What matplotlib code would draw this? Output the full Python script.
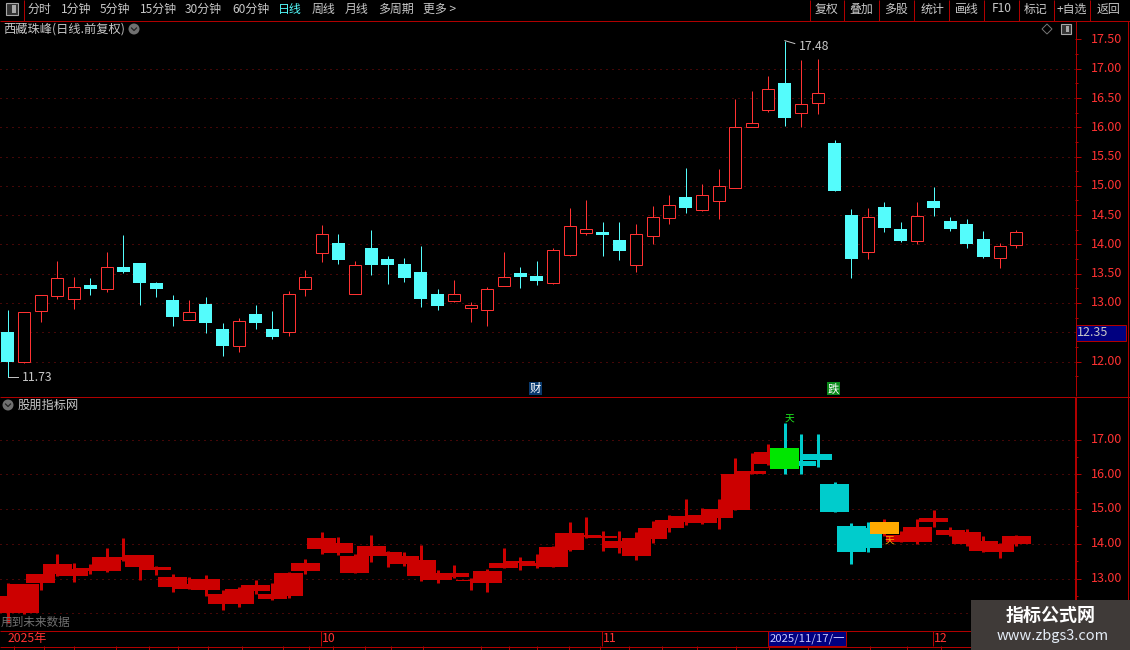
import matplotlib
matplotlib.use("Agg")
import matplotlib.pyplot as plt
from matplotlib.patches import Rectangle, Circle, Polygon

plt.rcParams['font.family'] = ['Noto Sans CJK SC', 'DejaVu Sans']

# 日线数据
opens = [12.51, 12.00, 12.87, 13.12, 13.07, 13.31, 13.23, 13.61, 13.68, 13.34, 13.05,
         12.71, 12.98, 12.55, 12.26, 12.81, 12.55, 12.50, 13.23, 13.86, 14.03, 13.15,
         13.94, 13.75, 13.66, 13.53, 13.15, 13.04, 12.92, 12.88, 13.29, 13.51, 13.46,
         13.34, 13.82, 14.20, 14.21, 14.07, 13.65, 14.15, 14.45, 14.81, 14.59, 14.74,
         14.97, 16.00, 16.30, 16.75, 16.24, 16.42, 15.73, 14.50, 13.87, 14.64, 14.26,
         14.05, 14.74, 14.40, 14.35, 14.09, 13.77, 13.99]
closes = [12.00, 12.84, 13.13, 13.42, 13.28, 13.23, 13.61, 13.53, 13.34, 13.24, 12.76,
          12.84, 12.66, 12.27, 12.70, 12.65, 12.41, 13.16, 13.45, 14.17, 13.74, 13.64,
          13.65, 13.65, 13.42, 13.07, 12.95, 13.16, 12.96, 13.23, 13.45, 13.44, 13.37,
          13.91, 14.32, 14.26, 14.16, 13.88, 14.17, 14.46, 14.67, 14.62, 14.84, 14.99,
          16.01, 16.08, 16.65, 16.16, 16.39, 16.58, 14.91, 13.75, 14.46, 14.28, 14.05,
          14.49, 14.62, 14.26, 14.00, 13.78, 13.98, 14.22]
highs = [12.88, 12.84, 13.13, 13.71, 13.44, 13.42, 13.87, 14.16, 13.68, 13.36, 13.13,
         13.05, 13.10, 12.66, 12.75, 12.96, 12.86, 13.20, 13.57, 14.33, 14.18, 13.71,
         14.24, 13.80, 13.77, 13.97, 13.24, 13.39, 13.02, 13.27, 13.87, 13.61, 13.71,
         13.94, 14.62, 14.76, 14.38, 14.38, 14.35, 14.65, 14.84, 15.30, 15.03, 15.28,
         16.48, 16.62, 16.87, 17.48, 17.15, 17.16, 15.78, 14.60, 14.62, 14.72, 14.38,
         14.72, 14.98, 14.47, 14.43, 14.23, 14.02, 14.24]
lows = [11.73, 11.98, 12.68, 13.07, 12.90, 13.14, 13.19, 13.51, 12.97, 13.11, 12.61,
        12.71, 12.49, 12.10, 12.17, 12.56, 12.39, 12.44, 13.12, 13.70, 13.67, 13.15,
        13.48, 13.32, 13.36, 12.93, 12.88, 13.02, 12.67, 12.61, 13.29, 13.25, 13.31,
        13.33, 13.80, 14.16, 13.80, 13.73, 13.53, 14.01, 14.35, 14.53, 14.57, 14.43,
        14.97, 16.00, 16.26, 16.02, 16.00, 16.22, 14.91, 13.42, 13.75, 14.21, 14.04,
        14.00, 14.48, 14.23, 13.94, 13.77, 13.60, 13.94]

green_bars = [47]
cyan_bars = [48, 49, 50, 51, 52]
orange_bars = [53]

left_menu = ['分时', '1分钟', '5分钟', '15分钟', '30分钟', '60分钟', '日线', '周线', '月线', '多周期', '更多 >']
left_menu_x = [28, 61, 100, 140, 185, 232, 278, 312, 345, 378, 423]
right_menu = ['复权', '叠加', '多股', '统计', '画线', 'F10', '标记', '+自选', '返回']
right_menu_x = [827, 861, 896, 932, 967, 1002, 1036, 1072, 1108]
menu_seps = [810, 844, 879, 914, 949, 984, 1019, 1054, 1090]
top_ticks = [12.0, 12.5, 13.0, 13.5, 14.0, 14.5, 15.0, 15.5, 16.0, 16.5, 17.0, 17.5]
low_ticks = [13.0, 14.0, 15.0, 16.0, 17.0]
low_grid = [12.0, 13.0, 14.0, 15.0, 16.0, 17.0]
months = ['2025年', '10', '11', '12']
month_x = [8, 322, 603, 934]
month_seps = [320, 601, 932]
date_ticks = [13, 43, 73, 115, 148, 177, 207, 241, 282, 308, 332, 364, 390, 422, 480, 508,
              536, 568, 599, 628, 661, 696, 735, 768, 807, 869, 906, 940]

RED = '#ff3232'
CYAN = '#54fcfc'
FRAME = '#b00000'
GRID = '#8a0f0f'
TXT = '#c8c8c8'
W, H = 1130, 650
AX_R = 1075
STEP = 16.54
X0 = 7.5

fig = plt.figure(figsize=(W / 100, H / 100), dpi=100, facecolor='black')


def panel(top, bottom):
    ax = fig.add_axes([0, 1 - bottom / H, AX_R / W, (bottom - top) / H], facecolor='black')
    ax.set_xlim(-X0 / STEP, (AX_R - X0) / STEP)
    ax.axis('off')
    return ax


idx = list(range(len(opens)))
is_up = [c >= o for o, c in zip(opens, closes)]

# 主图 K线
ax1 = panel(22, 396)
s1 = 58.55
ax1.set_ylim(12 - (396 - 361.5) / s1, 12 + (361.5 - 22) / s1)
for t in top_ticks[:-1]:
    ax1.axhline(t, color=GRID, lw=0.72, ls=(0, (1, 5)), zorder=1)
for i in idx:
    col = RED if is_up[i] else CYAN
    ax1.vlines(i, lows[i], highs[i], color=col, lw=0.72, zorder=2, capstyle='butt', snap=True)
    b, t = sorted([opens[i], closes[i]])
    if is_up[i]:
        ax1.add_patch(Rectangle((i - 6 / STEP, b), 12 / STEP, t - b, fc='black', ec=RED, lw=0.72,
                                zorder=3, snap=True))
    else:
        ax1.add_patch(Rectangle((i - 6.5 / STEP, b), 13 / STEP, t - b, fc=CYAN, ec='none', zorder=3, snap=True))

hi = highs.index(max(highs))
lo = lows.index(min(lows))
ax1.annotate('%.2f' % highs[hi], (hi, highs[hi]), xytext=(10, -4), textcoords='offset points',
             color=TXT, fontsize=8.8, va='center', zorder=5)
ax1.plot([hi, hi + 0.6], [highs[hi], highs[hi] - 0.05], color=TXT, lw=0.7, zorder=5)
ax1.annotate('%.2f' % lows[lo], (lo, lows[lo]), xytext=(10, 0), textcoords='offset points',
             color=TXT, fontsize=8.8, va='center', zorder=5)
ax1.plot([lo, lo + 0.65], [lows[lo], lows[lo]], color=TXT, lw=0.7, zorder=5)

# 副图
ax2 = panel(397, 630)
s2 = 34.75
ax2.set_ylim(13 - (630 - 578.5) / s2, 17 + (439.5 - 397) / s2)
for t in low_grid:
    ax2.axhline(t, color=GRID, lw=0.72, ls=(0, (1, 5)), zorder=1)
for i in idx:
    b, t = sorted([opens[i], closes[i]])
    if i in green_bars:
        col, wick, z = '#00e600', '#00cccc', 6
    elif i in cyan_bars:
        col, wick, z = '#00cccc', '#00cccc', 4
    elif i in orange_bars:
        col, wick, z = '#ffaa00', '#cc0000', 6
    else:
        col, wick, z = '#cc0000', '#cc0000', 2
    ax2.vlines(i, lows[i], highs[i], color=wick, lw=2.16, zorder=z - 1, capstyle='butt', snap=True)
    ax2.add_patch(Rectangle((i - 14.5 / STEP, b), 29 / STEP, t - b, fc=col, ec='none', zorder=z, snap=True))
ax2.annotate('天', (green_bars[0], highs[green_bars[0]]), xytext=(3.5, 2), textcoords='offset points',
             color='#20f020', fontsize=7, ha='center', va='center', zorder=8)
ax2.annotate('天', (orange_bars[0], lows[orange_bars[0]]), xytext=(3.5, -4), textcoords='offset points',
             color='#ffaa00', fontsize=7, ha='center', va='center', zorder=8)
ax2.text(1 / STEP - X0 / STEP, 13 - (622 - 578.5) / s2, '用到未来数据', color='#707070', fontsize=8.4,
         va='center', zorder=9)

# 界面框线和文字
ov = fig.add_axes([0, 0, 1, 1], facecolor='none')
ov.set_xlim(0, W)
ov.set_ylim(H, 0)
ov.axis('off')


def hl(y, x0=0, x1=W, c=FRAME, lw=0.72):
    ov.plot([x0, x1], [y, y], color=c, lw=lw, solid_capstyle='butt', snap=True)


def vl(x, y0, y1, c=FRAME, lw=0.72):
    ov.plot([x, x], [y0, y1], color=c, lw=lw, solid_capstyle='butt', snap=True)


def icon_down(x, y):
    ov.add_patch(Circle((x, y), 5.5, fc='#707070', ec='none'))
    ov.plot([x - 2.5, x, x + 2.5], [y - 1, y + 1.5, y - 1], color='#222222', lw=0.9)


hl(21)
hl(396.5)
hl(630.5)
hl(646.5)
vl(23.5, 0, 21)
for x in menu_seps:
    vl(x, 0, 21)
vl(AX_R + 0.5, 21, 396)
vl(AX_R + 0.5, 397, 630, lw=1.44)
vl(1127.5, 21, 630)
ov.add_patch(Rectangle((6, 3), 12, 12, fc='#333333', ec='#a8a8a8', lw=0.8))
ov.add_patch(Rectangle((12, 5), 4, 8, fc='#a8a8a8', ec='none'))
for s, x in zip(left_menu, left_menu_x):
    ov.text(x, 9, s, color=CYAN if s == '日线' else TXT, fontsize=8.6, va='center')
for s, x in zip(right_menu, right_menu_x):
    ov.text(x, 9, s, color=TXT, fontsize=8.6, va='center', ha='center')

ov.text(3, 29, '西藏珠峰(日线.前复权)', color=TXT, fontsize=8.8, va='center')
icon_down(134, 29)
ov.add_patch(Polygon([(1047, 24), (1052, 29), (1047, 34), (1042, 29)], fc='none', ec='#777777', lw=0.7))
ov.add_patch(Rectangle((1061, 24), 10, 10, fc='#333333', ec='#a8a8a8', lw=0.8))
ov.add_patch(Rectangle((1066, 26), 3, 6, fc='#a8a8a8', ec='none'))
icon_down(8, 405)
ov.text(18, 405, '股朋指标网', color=TXT, fontsize=8.8, va='center')

# 坐标刻度, 12.50 is covered by the current price box
for t in top_ticks:
    y = 361.5 - (t - 12) * s1
    hl(y, AX_R, AX_R + 6)
    if t != 12.5:
        ov.text(1091, y, '%.2f' % t, color=RED, fontsize=9, va='center')
    if t < 17.5:
        hl(y - 0.25 * s1, AX_R, AX_R + 3)
hl(361.5 + 0.25 * s1, AX_R, AX_R + 3)
for t in low_ticks:
    y = 578.5 - (t - 13) * s2
    hl(y, AX_R, AX_R + 6)
    ov.text(1091, y, '%.2f' % t, color=RED, fontsize=9, va='center')
    hl(y + 0.5 * s2, AX_R, AX_R + 3)
ov.add_patch(Rectangle((1076, 325), 50, 16, fc='#000080', ec=FRAME, lw=0.72, zorder=5))
ov.text(1077, 333, '12.35', color=TXT, fontsize=9, va='center', zorder=6)

# 信息地雷
ov.add_patch(Rectangle((529, 382), 13, 13, fc='#0a3a6e', ec='none'))
ov.text(535.5, 388.5, '财', color='white', fontsize=8.2, ha='center', va='center')
ov.add_patch(Rectangle((827, 382), 13, 13, fc='#0a8a1a', ec='none'))
ov.text(833.5, 388.5, '跌', color='white', fontsize=8.2, ha='center', va='center')

# 时间轴
for s, x in zip(months, month_x):
    ov.text(x, 638.5, s, color=RED, fontsize=8.8, va='center')
for x in month_seps:
    vl(x + 0.5, 631, 646)
for x in date_ticks:
    vl(x + 0.5, 646, 650)
ov.add_patch(Rectangle((768, 631), 78, 15, fc='#000080', ec=FRAME, lw=0.72, zorder=5))
ov.text(770, 638.5, '2025/11/17/一', color='#c8c8ff', fontsize=8.2, va='center', zorder=6)

# 水印
ov.add_patch(Rectangle((971, 600), 159, 50, fc='#3f3a38', ec='none', zorder=10))
ov.text(1051, 615, '指标公式网', color='white', fontsize=13, fontweight='bold', ha='center', va='center', zorder=11)
ov.text(1053, 636, 'www.zbgs3.com', color='#e4ecf6', fontsize=10.5, ha='center', va='center', zorder=11)

fig.savefig('out.png', dpi=100, facecolor='black')
